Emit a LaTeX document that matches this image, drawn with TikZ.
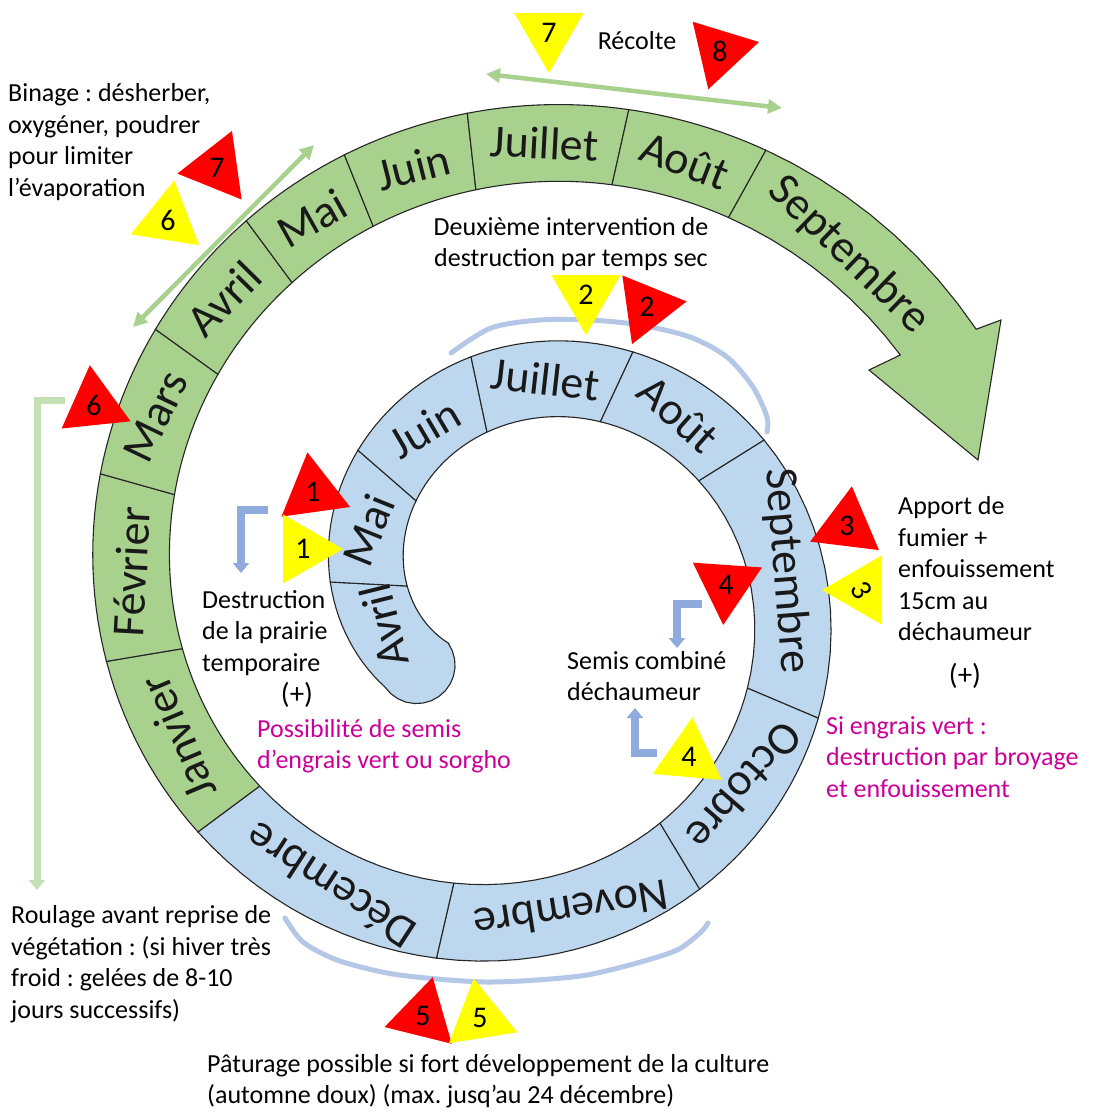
\documentclass[tikz,border=0pt]{standalone}
\usepackage{fontspec}
\usepackage{graphicx}
\setmainfont{Carlito}
\frenchspacing
\usetikzlibrary{shapes.geometric,arrows.meta,positioning,calc}
\definecolor{green1}{RGB}{169,209,142}
\definecolor{green2}{RGB}{197,224,180}
\definecolor{blue1}{RGB}{189,215,238}
\definecolor{blue2}{RGB}{143,170,220}
\definecolor{blue3}{RGB}{180,199,231}
\definecolor{red1}{RGB}{255,0,0}
\definecolor{yellow1}{RGB}{255,255,0}
\definecolor{pink1}{RGB}{204,0,153}

% centre of the spiral and its two edges (s = angle, clockwise from the left)
\def\cx{521}
\def\cy{592}
\def\outr{(189+0.66*\x)}
\def\inr{(112+0.66*\x)}

\newcommand{\ringseg}[3]{%
  \draw[band, fill=#1] plot[domain=#2:#3, samples=15] ({\cx-\outr*cos(\x)},{\cy-\outr*sin(\x)})
    -- plot[domain=#3:#2, samples=15] ({\cx-\inr*cos(\x)},{\cy-\inr*sin(\x)}) -- cycle;}

\begin{document}
\begin{tikzpicture}[x=1pt, y=-1pt,
    band/.style={draw=black!85, line width=1.1pt},
    month/.style={font=\fontsize{46}{50}\selectfont, inner sep=0pt, text=black!90},
    note/.style={font=\fontsize{26}{31.5}\selectfont, align=left, anchor=west, inner sep=0pt},
    plus/.style={font=\fontsize{29}{32}\selectfont, inner sep=0pt},
    tri/.style={regular polygon, regular polygon sides=3, minimum size=80pt, inner sep=0pt, font=\fontsize{30}{32}\selectfont},
    greenarrow/.style={{Triangle[length=14pt,width=14pt]}-{Triangle[length=14pt,width=14pt]}, draw=green1, line width=4.5pt},
    bracket/.style={-{Triangle[length=10pt,width=16pt]}, line width=8pt},
    season/.style={draw=blue3, line width=5pt, line cap=round}]
    \fill[white] (0,0) rectangle (1102,1112);
    \useasboundingbox (0,0) rectangle (1102,1112);

    % light blue arcs
    \draw[season] plot[smooth] coordinates {(451,353) (491,328) (540,320) (590,320) (640,325) (690,337) (727,357) (753,387) (767,417) (767,432)};
    \draw[season] plot[smooth] coordinates {(285,918) (303,942) (337,960) (387,973) (437,979) (487,982) (537,980) (587,975) (637,963) (677,950) (700,933) (708,923)};

    % first year (blue), round end at Avril
    \draw[band, fill=blue1] plot[domain=-35:3, samples=15] ({\cx-\outr*cos(\x)},{\cy-\outr*sin(\x)})
        -- plot[domain=3:-35, samples=15] ({\cx-\inr*cos(\x)},{\cy-\inr*sin(\x)})
        -- plot[domain=-90:90, samples=15] ({416.6+38.5*(-0.819*sin(\x)+0.574*cos(\x))},{665.1+38.5*(0.574*sin(\x)+0.819*cos(\x))}) -- cycle;
    \foreach \a/\b in {3/41, 41/78, 78/115, 115/148, 148/203, 203/239, 239/283, 283/323.4}
        \ringseg{blue1}{\a}{\b};
    % second year (green)
    \foreach \a/\b in {323.4/350.5, 350.5/375.7, 375.7/395.7, 395.7/413.5, 413.5/428, 428/443.6, 443.6/462.6, 462.6/479}
        \ringseg{green1}{\a}{\b};
    \draw[band, fill=green1] plot[domain=479:510, samples=10] ({\cx-\outr*cos(\x)},{\cy-\outr*sin(\x)})
        -- (1001,320) -- (978,460) -- (869,370)
        -- plot[domain=508:479, samples=10] ({\cx-\inr*cos(\x)},{\cy-\inr*sin(\x)}) -- cycle;

    % month names
    \foreach \s/\m/\n in {-14/Avril/bAvr, 22/Mai/bMai, 59.5/Juin/bJun, 96.5/Juillet/bJul, 131.5/Août/bAou,
        175.5/Septembre/bSep, 221/Octobre/bOct, 261/Novembre/bNov, 303/Décembre/bDec,
        337/Janvier/gJan, 363/Février/gFev, 385.7/Mars/gMar, 404.6/Avril/gAvr, 420.8/Mai/gMai,
        435.8/Juin/gJun, 453/Juillet/gJul, 470.8/Août/gAou}
        \node[month, rotate={90-(\s)}] (\n) at ({\cx-(150.5+0.66*\s)*cos(\s)},{\cy-(150.5+0.66*\s)*sin(\s)}) {\m};
    \node[month, rotate=-44] (gSep) at (849,255) {Septembre};

    % arrows and brackets
    \coordinate (recL) at (486,74);
    \coordinate (recR) at (782,108);
    \draw[greenarrow] (recL) -- (recR);
    \coordinate (binL) at (133,327);
    \coordinate (binR) at (314,145);
    \draw[greenarrow] (binL) -- (binR);
    \coordinate (rouT) at (65,400);
    \coordinate (rouB) at (37,890);
    \draw[bracket, draw=green2, line width=7pt] (rouT) -| (rouB);
    \coordinate (desT) at (268,510);
    \coordinate (desB) at (241,573);
    \draw[bracket, draw=blue2] (desT) -| (desB);
    \coordinate (semT) at (702,604);
    \coordinate (semB) at (677,648);
    \draw[bracket, draw=blue2] (semT) -| (semB);
    \coordinate (semL) at (657,753);
    \coordinate (semU) at (635,708);
    \draw[bracket, draw=blue2] (semL) -| (semU);

    % markers
    \node[tri, fill=yellow1, shape border rotate=180] (y7) at (549,33) {7};
    \node[tri, fill=red1, shape border rotate=43] (r8) at (720,51) {8};
    \node[tri, fill=red1, shape border rotate=-22] (r7) at (217,168) {7};
    \node[tri, fill=yellow1, shape border rotate=-9] (y6) at (168,220) {6};
    \node[tri, fill=red1, shape border rotate=6] (r6) at (94,405) {6};
    \node[tri, fill=red1, shape border rotate=8] (r1) at (313,492) {1};
    \node[tri, fill=yellow1, shape border rotate=30] (y1) at (303,549) {1};
    \node[tri, fill=yellow1, shape border rotate=60] (y2) at (586,295) {2};
    \node[tri, fill=red1, shape border rotate=38] (r2) at (647,307) {2};
    \node[tri, fill=red1, shape border rotate=-7] (r3) at (847,526) {3};
    \node[tri, fill=yellow1, shape border rotate=90] (y3) at (862,590) {\rotatebox{-60}{3}};
    \node[tri, fill=red1, shape border rotate=56] (r4) at (726,585) {4};
    \node[tri, fill=yellow1, shape border rotate=-5] (y4) at (689,757) {4};
    \node[tri, fill=red1, shape border rotate=-14] (r5) at (423,1016) {5};
    \node[tri, fill=yellow1, shape border rotate=9] (y5) at (480,1018) {5};

    % texts
    \node[note] (binage) at (8,142) {Binage : désherber,\\oxygéner, poudrer\\pour limiter\\l’évaporation};
    \node[note, anchor=center] (recolte) at (637,41) {Récolte};
    \node[note, align=center, anchor=center] (deux) at (571,244) {Deuxième intervention de\\destruction par temps sec};
    \node[note] (apport) at (898,569) {Apport de\\fumier +\\enfouissement\\15cm au\\déchaumeur};
    \node[plus] (plusR) at (965,676) {(+)};
    \node[note, text=pink1] (engrR) at (826,757) {Si engrais vert :\\destruction par broyage\\et enfouissement};
    \node[note] (semis) at (567,676) {Semis combiné\\déchaumeur};
    \node[note] (destr) at (202,633) {Destruction\\de la prairie\\temporaire};
    \node[plus] (plusL) at (297,695) {(+)};
    \node[note, text=pink1] (engrL) at (257,746) {Possibilité de semis\\d’engrais vert ou sorgho};
    \node[note] (roul) at (11,964) {Roulage avant reprise de\\végétation : (si hiver très\\froid : gelées de 8-10\\jours successifs)};
    \node[note] (patur) at (207,1081) {Pâturage possible si fort développement de la culture\\(automne doux) (max. jusq’au 24 décembre)};
\end{tikzpicture}
\end{document}
